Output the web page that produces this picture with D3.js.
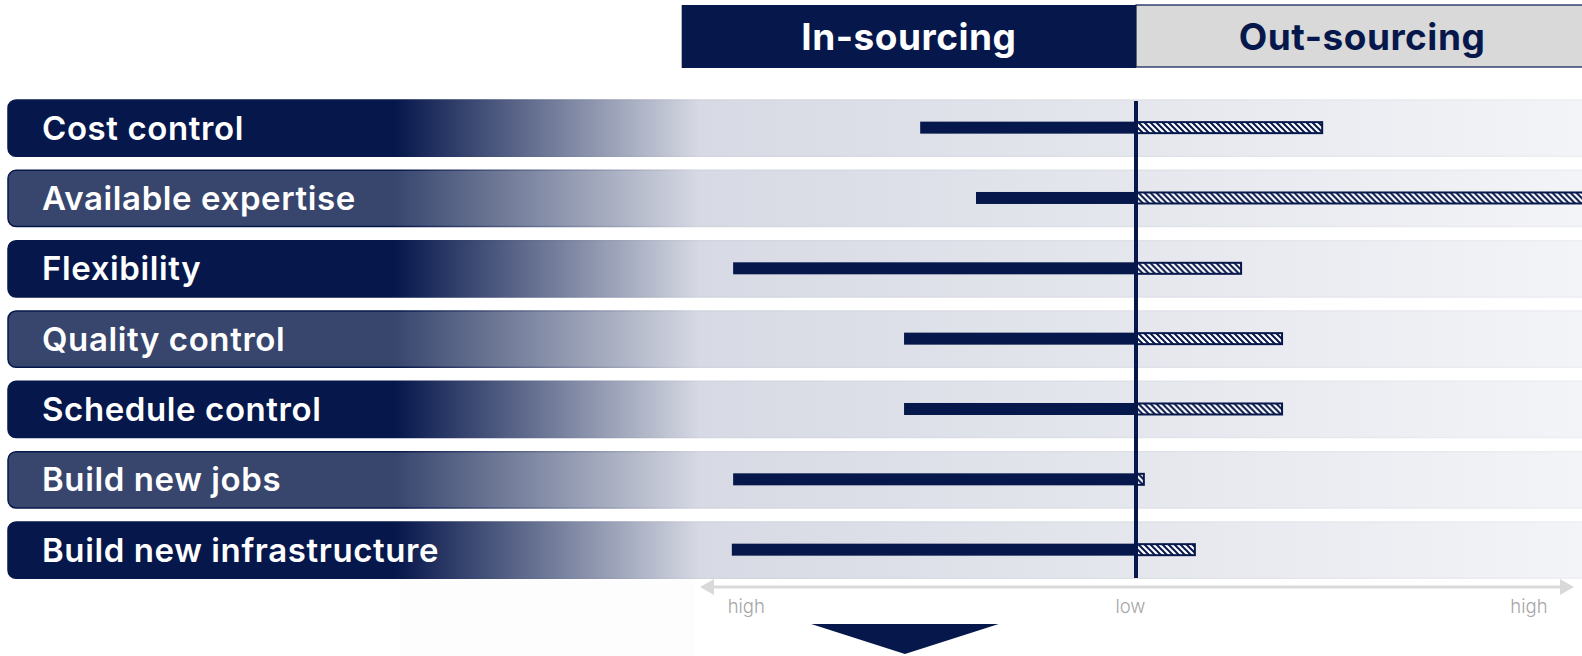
<!DOCTYPE html>
<html>
<head>
<meta charset="utf-8">
<script src="https://cdn.jsdelivr.net/npm/d3@7"></script>
<style>
  html, body { margin: 0; padding: 0; background: #ffffff; }
  svg { display: block; }
</style>
</head>
<body>
<svg id="chart" width="1582" height="656"></svg>
<script>
// ---------- data ----------
const categories = ["Cost control", "Available expertise", "Flexibility", "Quality control",
                    "Schedule control", "Build new jobs", "Build new infrastructure"];
const inSourcing  = [4.95, 3.67, 9.24, 5.32, 5.32, 9.24, 9.27];   // importance toward in-sourcing (left)
const outSourcing = [4.27, 10.6, 2.41, 3.35, 3.35, 0.18, 1.35];   // importance toward out-sourcing (right)
const tickValues = [-8.95, -0.14, 9.0];
const tickLabels = ["high", "low", "high"];
const headers = ["In-sourcing", "Out-sourcing"];

// ---------- setup ----------
const W = 1582, H = 656;
const NAVY = "#06174b";
const FONT = "Inter, Roboto, sans-serif";
const svg = d3.select("#chart");
const defs = svg.append("defs");

const x = d3.scaleLinear().domain([-10, 10]).range([700, 1572]);
const y = d3.scaleBand().domain(categories).range([100, 578.3]).paddingInner(0.2).paddingOuter(0);

// gradients for row backgrounds
function rowGrad(id, c0) {
  const g = defs.append("linearGradient").attr("id", id)
    .attr("gradientUnits", "userSpaceOnUse").attr("x1", 0).attr("x2", W).attr("y1", 0).attr("y2", 0);
  g.append("stop").attr("offset", 0).attr("stop-color", c0);
  g.append("stop").attr("offset", 395 / W).attr("stop-color", c0);
  g.append("stop").attr("offset", 700 / W).attr("stop-color", "#d7dae4");
  g.append("stop").attr("offset", 1).attr("stop-color", "#f3f4f7");
}
rowGrad("gOdd", NAVY);
rowGrad("gEven", "#38466e");
{
  const g = defs.append("linearGradient").attr("id", "gBorder")
    .attr("gradientUnits", "userSpaceOnUse").attr("x1", 0).attr("x2", W).attr("y1", 0).attr("y2", 0);
  g.append("stop").attr("offset", 0).attr("stop-color", NAVY);
  g.append("stop").attr("offset", 395 / W).attr("stop-color", NAVY);
  g.append("stop").attr("offset", 700 / W).attr("stop-color", "#d2d5df");
  g.append("stop").attr("offset", 1).attr("stop-color", "#eceef2");
}

// hatch pattern
const pat = defs.append("pattern").attr("id", "hatch")
  .attr("patternUnits", "userSpaceOnUse").attr("width", 6).attr("height", 6);
pat.append("rect").attr("width", 6).attr("height", 6).attr("fill", "#ffffff");
pat.append("path").attr("d", "M-1,-1 L7,7 M-1,5 L1,7 M5,-1 L7,1")
  .attr("stroke", NAVY).attr("stroke-width", 2);

// faint background shade at bottom left
svg.append("rect").attr("x", 400).attr("y", 578).attr("width", 295).attr("height", 78)
  .attr("fill", "#fdfdfd");

// ---------- header ----------
const hdr = svg.append("g");
hdr.append("rect").attr("x", x(-10.42)).attr("y", 5).attr("width", x(0) - x(-10.42)).attr("height", 63)
  .attr("fill", NAVY);
hdr.append("rect").attr("x", x(0)).attr("y", 5).attr("width", W - x(0) + 5).attr("height", 62)
  .attr("fill", "#d9d9d9").attr("stroke", NAVY).attr("stroke-width", 1.2);
hdr.append("text").attr("x", (x(-10.42) + x(0)) / 2).attr("y", 50).attr("text-anchor", "middle")
  .attr("font-family", FONT).attr("font-weight", 700).attr("font-size", 37).attr("letter-spacing", 0.5)
  .attr("fill", "#ffffff").text(headers[0]);
hdr.append("text").attr("x", 1362).attr("y", 50).attr("text-anchor", "middle")
  .attr("font-family", FONT).attr("font-weight", 700).attr("font-size", 37).attr("letter-spacing", 0.5)
  .attr("fill", NAVY).text(headers[1]);

// ---------- rows ----------
const rows = svg.append("g").selectAll("g").data(categories).join("g")
  .attr("transform", d => `translate(0,${y(d)})`);

rows.append("rect")
  .attr("x", 8).attr("y", 0).attr("width", W + 20).attr("height", y.bandwidth())
  .attr("rx", 8).attr("ry", 8)
  .attr("fill", (d, i) => i % 2 === 0 ? "url(#gOdd)" : "url(#gEven)")
  .attr("stroke", "url(#gBorder)").attr("stroke-width", 1.5);

rows.append("text")
  .attr("x", 42).attr("y", y.bandwidth() / 2 + 11.5)
  .attr("font-family", FONT).attr("font-weight", 600).attr("font-size", 33).attr("letter-spacing", 0.6)
  .attr("fill", "#ffffff").text(d => d);

const barH = 11;
// in-sourcing bars (left, solid)
rows.append("rect")
  .attr("x", (d, i) => x(-inSourcing[i]))
  .attr("y", y.bandwidth() / 2 - 1 - barH / 2)
  .attr("width", (d, i) => x(0) - x(-inSourcing[i]))
  .attr("height", barH + 1)
  .attr("fill", NAVY);

// out-sourcing bars (right, hatched)
rows.append("rect")
  .attr("x", x(0))
  .attr("y", y.bandwidth() / 2 - 1 - barH / 2 + 0.5)
  .attr("width", (d, i) => x(outSourcing[i]) - x(0))
  .attr("height", barH)
  .attr("fill", "url(#hatch)")
  .attr("stroke", NAVY).attr("stroke-width", 2);

// centre line
svg.append("line").attr("x1", x(0)).attr("x2", x(0)).attr("y1", 101).attr("y2", 578)
  .attr("stroke", NAVY).attr("stroke-width", 4);

// ---------- axis ----------
const axY = 587;
svg.append("line").attr("x1", x(-10) + 8).attr("x2", x(10) - 8).attr("y1", axY).attr("y2", axY)
  .attr("stroke", "#d9d9d9").attr("stroke-width", 3);
svg.append("path")
  .attr("d", `M${x(-10)},${axY} L${x(-10) + 14},${axY - 8} L${x(-10) + 14},${axY + 8} Z`)
  .attr("fill", "#d9d9d9");
svg.append("path")
  .attr("d", `M${x(10) + 2},${axY} L${x(10) - 12},${axY - 8} L${x(10) - 12},${axY + 8} Z`)
  .attr("fill", "#d9d9d9");

const axis = d3.axisBottom(x).tickValues(tickValues)
  .tickFormat((d, i) => tickLabels[i]).tickSize(0).tickPadding(0);
const axG = svg.append("g").attr("transform", `translate(0,${axY + 10})`).call(axis);
axG.select(".domain").remove();
axG.selectAll("text")
  .attr("font-family", FONT).attr("font-weight", 300).attr("font-size", 18.5)
  .attr("fill", "#a6a6a6").attr("dy", "0.85em");

// downward arrow
svg.append("path")
  .attr("d", `M${x(-7.45)},624 L${x(-3.15)},624 L${x(-5.3)},654 Z`)
  .attr("fill", NAVY);
</script>
</body>
</html>
